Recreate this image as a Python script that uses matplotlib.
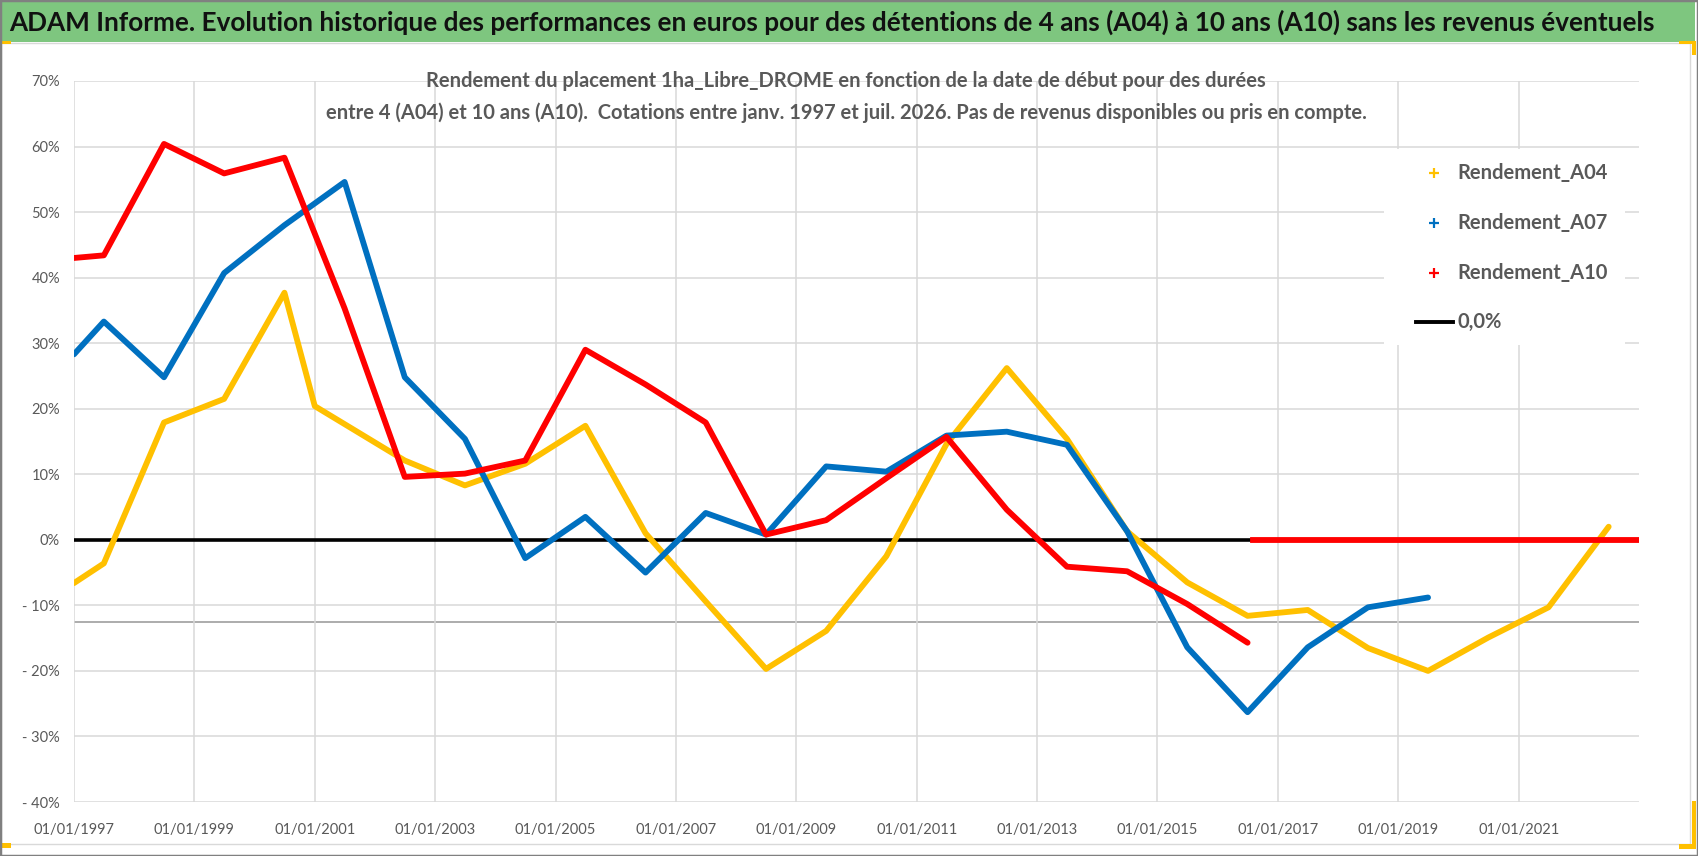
import matplotlib as mpl
mpl.use('Agg')
import matplotlib.pyplot as plt
import matplotlib.dates as mdates
from matplotlib import font_manager
from matplotlib.patches import Rectangle
from matplotlib.lines import Line2D
import pandas as pd

# police étroite proche de Calibri si disponible
installed = {f.name for f in font_manager.fontManager.ttflist}
narrow = next((n for n in ['Liberation Sans Narrow', 'DejaVu Sans Condensed', 'Lato']
               if n in installed), 'DejaVu Sans')
plt.rcParams['font.family'] = [narrow, 'DejaVu Sans']

# --- données ---
dates_a04 = ['1997-01', '1997-07', '1998-07', '1999-07', '2000-07', '2001-01', '2002-07',
             '2003-07', '2004-07', '2005-07', '2006-07', '2007-07', '2008-07', '2009-07',
             '2010-07', '2011-07', '2012-07', '2013-07', '2014-07', '2015-07', '2016-07',
             '2017-07', '2018-07', '2019-07', '2020-07', '2021-07', '2022-07']
rend_a04 = [-6.6, -3.6, 17.9, 21.5, 37.7, 20.4, 12.1, 8.3, 11.6, 17.4, 1.0, -9.4, -19.7,
            -13.9, -2.5, 14.6, 26.2, 15.4, 1.3, -6.5, -11.6, -10.7, -16.5, -20.0, -14.9,
            -10.3, 2.0]

dates_a07 = ['1997-01', '1997-07', '1998-07', '1999-07', '2000-07', '2001-07', '2002-07',
             '2003-07', '2004-07', '2005-07', '2006-07', '2007-07', '2008-07', '2009-07',
             '2010-07', '2011-07', '2012-07', '2013-07', '2014-07', '2015-07', '2016-07',
             '2017-07', '2018-07', '2019-07']
rend_a07 = [28.3, 33.3, 24.8, 40.7, 48.0, 54.6, 24.8, 15.4, -2.8, 3.5, -5.0, 4.1, 0.8,
            11.2, 10.4, 15.9, 16.5, 14.5, 1.3, -16.4, -26.3, -16.4, -10.3, -8.8]

dates_a10 = ['1997-01', '1997-07', '1998-07', '1999-07', '2000-07', '2001-07', '2002-07',
             '2003-07', '2004-07', '2005-07', '2006-07', '2007-07', '2008-07', '2009-07',
             '2010-07', '2011-07', '2012-07', '2013-07', '2014-07', '2015-07', '2016-07']
rend_a10 = [43.0, 43.4, 60.4, 55.9, 58.3, 35.3, 9.6, 10.1, 12.1, 29.0, 23.7, 17.9, 0.8,
            3.0, 9.4, 15.7, 4.6, -4.1, -4.8, -9.8, -15.7]
# fin de série A10 à 0 (pas de cotation)
dates_a10_nul = ['2016-08', '2023-01']
rend_a10_nul = [0, 0]

dates_zero = ['1997-01', '2023-01']
rend_zero = [0, 0]

ligne_grise = -12.6

x_ticks = [f'{y}-01-01' for y in range(1997, 2022, 2)]
y_ticks = list(range(-40, 71, 10))

titre = ("ADAM Informe. Evolution historique des performances en euros pour des détentions "
         "de 4 ans (A04) à 10 ans (A10) sans les revenus éventuels")
sous_titre = ["Rendement du placement 1ha_Libre_DROME en fonction de la date de début pour des durées",
              "entre 4 (A04) et 10 ans (A10).  Cotations entre janv. 1997 et juil. 2026. "
              "Pas de revenus disponibles ou pris en compte."]
legende = ['Rendement_A04', 'Rendement_A07', 'Rendement_A10', '0,0%']

JAUNE, BLEU, ROUGE = '#FFC000', '#0070C0', '#FF0000'
GRIS = '#595959'

W, H = 1698, 856
fig = plt.figure(figsize=(W / 100, H / 100), dpi=100)
renderer = fig.canvas.get_renderer()


def fx(px):
    return px / W


def fy(py):
    return 1 - py / H


def largeur(s, size, weight='normal'):
    t = fig.text(0, 0, s, fontsize=size, fontweight=weight)
    w = t.get_window_extent(renderer).width
    t.remove()
    return w


ax = fig.add_axes([fx(74), fy(802), fx(1639 - 74), (802 - 81) / H])

ax.plot(pd.to_datetime(dates_zero), rend_zero, color='black', lw=2.6, zorder=2)
ax.plot(pd.to_datetime(dates_a04), rend_a04, color=JAUNE, lw=4.2, zorder=3,
        solid_joinstyle='round', solid_capstyle='round')
ax.plot(pd.to_datetime(dates_a07), rend_a07, color=BLEU, lw=4.2, zorder=4,
        solid_joinstyle='round', solid_capstyle='round')
ax.plot(pd.to_datetime(dates_a10), rend_a10, color=ROUGE, lw=4.2, zorder=5,
        solid_joinstyle='round', solid_capstyle='round')
ax.plot(pd.to_datetime(dates_a10_nul), rend_a10_nul, color=ROUGE, lw=4.2, zorder=5)
ax.axhline(ligne_grise, color='#A6A6A6', lw=1.3, zorder=1)

ax.set_xlim(pd.Timestamp('1997-01-01'), pd.Timestamp('2023-01-01'))
ax.set_ylim(-40, 70)
ax.set_xticks(pd.to_datetime(x_ticks))
ax.xaxis.set_major_formatter(mdates.DateFormatter('%d/%m/%Y'))
ax.set_yticks(y_ticks)
ax.set_yticklabels([f'{v}%' if v >= 0 else f'- {-v}%' for v in y_ticks])

tick_size = 10 * 81 / largeur('01/01/1997', 10)
ax.tick_params(length=0, labelsize=tick_size, labelcolor=GRIS)
ax.tick_params(axis='x', pad=15)
ax.tick_params(axis='y', pad=10)
ax.grid(True, color='#D9D9D9', lw=1.1, zorder=0)
for s in ax.spines.values():
    s.set_visible(False)

# bandeau vert du titre
fig.add_artist(Rectangle((fx(2), fy(42)), fx(1693), 40 / H, transform=fig.transFigure,
                         facecolor='#7EC67F', edgecolor='none', zorder=1))
t_size = 20 * 1645 / largeur(titre, 20, 'bold')
fig.text(fx(9), fy(22), titre, fontsize=t_size, fontweight='bold', color='#111111',
         ha='left', va='center')

# sous-titre
st_size = 14 * 1048 / largeur(sous_titre[1], 14, 'bold')
for ligne, py in zip(sous_titre, [81, 113]):
    fig.text(fx(846), fy(py), ligne, fontsize=st_size, fontweight='bold', color=GRIS,
             ha='center', va='center')

# légende
fig.add_artist(Rectangle((fx(1384), fy(345)), fx(1625 - 1384), (345 - 149) / H,
                         transform=fig.transFigure, facecolor='white', edgecolor='none',
                         zorder=1))
lg_size = 16 * 151 / largeur(legende[0], 16, 'bold')
for lab, col, py in zip(legende[:3], [JAUNE, BLEU, ROUGE], [173, 223, 273]):
    fig.add_artist(Line2D([fx(1434)], [fy(py)], marker='+', color=col, ms=7, mew=1.6,
                          transform=fig.transFigure, zorder=2))
    fig.text(fx(1457), fy(py), lab, fontsize=lg_size, fontweight='bold', color=GRIS,
             ha='left', va='center')
fig.add_artist(Line2D([fx(1416), fx(1453)], [fy(322), fy(322)], color='black', lw=2.8,
                      transform=fig.transFigure, zorder=2))
fig.text(fx(1457), fy(322), legende[3], fontsize=lg_size, fontweight='bold', color=GRIS,
         ha='left', va='center')

# cadres et poignées de sélection
fig.add_artist(Rectangle((fx(1), fy(844)), fx(1689), (844 - 43) / H,
                         transform=fig.transFigure, facecolor='none',
                         edgecolor='#D9D9D9', lw=1, zorder=1))
fig.add_artist(Rectangle((0, 0), 1, 1, transform=fig.transFigure, facecolor='none',
                         edgecolor='#808080', lw=2.5, zorder=6))
for x0, y0, w, h in [(0, 41, 11, 3), (1679, 41, 17, 3), (1692, 41, 4, 14),
                     (1692, 801, 4, 48), (1679, 844, 17, 5), (0, 843, 11, 5)]:
    fig.add_artist(Rectangle((fx(x0), fy(y0 + h)), w / W, h / H,
                             transform=fig.transFigure, facecolor=JAUNE,
                             edgecolor='none', zorder=5))

fig.savefig('out.png', dpi=100)
plt.close(fig)
